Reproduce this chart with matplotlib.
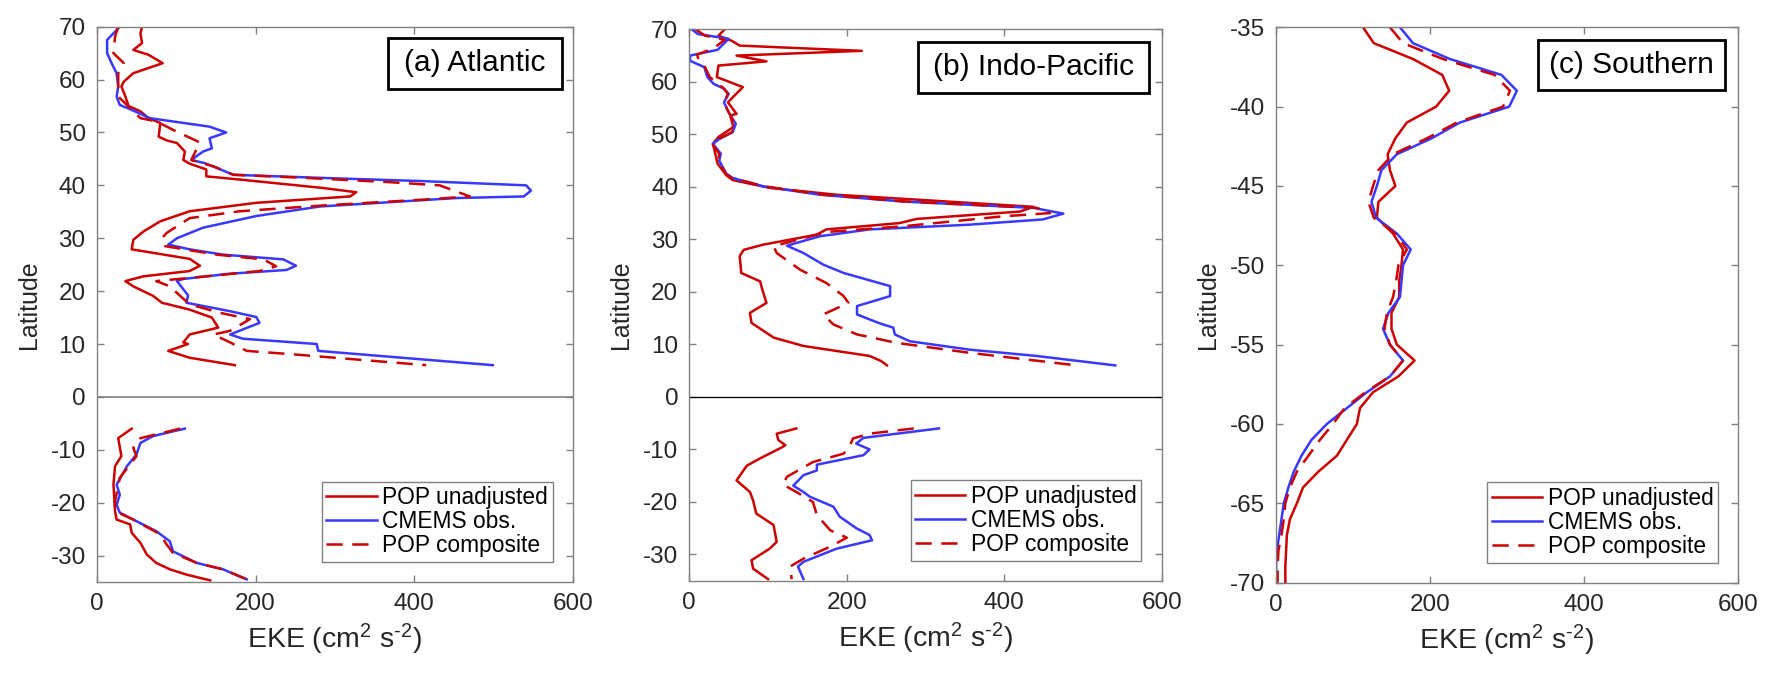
import matplotlib
matplotlib.use("Agg")
import matplotlib.pyplot as plt
from matplotlib.patches import Rectangle

plt.rcParams['font.family'] = ['Liberation Sans', 'DejaVu Sans']
plt.rcParams['mathtext.default'] = 'regular'
plt.rcParams['axes.unicode_minus'] = False

RED = '#cc0000'
BLUE = '#3838ff'

# (a) Atlantic, northern part
atl_n_obs_lat = [70, 67.5, 65, 63, 61.2, 58.7, 56.8, 55.2, 54.4, 52.7, 51.1, 50, 48.9, 47, 46.4, 44.8, 44.2, 43.3, 42,
                 41.4, 40.8, 40, 39, 37.9, 37.6, 36, 34.2, 32, 30, 28.8, 27.9, 26.9, 26, 24.8, 24, 23.3, 22.3, 21.9,
                 19.2, 17.8, 16.2, 15.1, 14, 11.8, 11, 10, 8.7, 6]
atl_n_obs = [29, 13, 13, 19, 25, 27, 25, 29, 42, 67, 142, 163, 142, 145, 134, 119, 136, 151, 172,
             285, 411, 541, 547, 538, 453, 281, 201, 134, 101, 90, 117, 159, 235, 251, 239, 168, 109, 101,
             115, 113, 168, 201, 205, 168, 184, 277, 279, 499]
atl_n_pop_lat = [70, 68.7, 66.9, 65.6, 64.7, 63.1, 61.2, 59.6, 58.7, 56.8, 55, 54, 52.7, 51.8, 49.2, 48.5, 48, 46.4,
                 44.8, 44.1, 43, 41.7, 41.1, 39.5, 38.7, 37.9, 36.7, 35.1, 33.2, 31.3, 29.7, 27.9, 26.1, 24.8, 23.8,
                 22.8, 21.9, 20.9, 19.1, 17.8, 16.5, 15, 13.1, 11.8, 10.3, 10, 8.7, 7.4, 6]
atl_n_pop = [57, 55, 57, 46, 65, 83, 46, 34, 31, 36, 40, 55, 65, 80, 78, 88, 101, 111,
             109, 117, 138, 138, 180, 285, 327, 319, 201, 117, 80, 59, 46, 44, 117, 130, 117,
             59, 36, 46, 71, 82, 117, 145, 153, 117, 109, 115, 90, 117, 174]
atl_n_comp_lat = [70, 68.1, 65, 63.1, 61.2, 56.8, 54.6, 52.7, 52.1, 50.5, 48.1, 44.8, 43.6, 42, 41.4, 40.6, 40,
                  37.9, 37.3, 36.2, 35.1, 33.8, 31, 30, 28.5, 26.9, 26, 24.7, 23.8, 22.8, 21.9, 20.9, 19.1, 17.5,
                  15.9, 14.7, 12.5, 11.8, 10.3, 8.7, 8.1, 6]
atl_n_comp = [27, 23, 21, 34, 27, 27, 42, 55, 75, 96, 130, 119, 147, 172, 264, 369, 432,
              470, 411, 285, 180, 117, 88, 82, 86, 151, 210, 226, 205, 138, 75, 92, 105, 117,
              155, 193, 168, 147, 168, 189, 243, 415]

# (a) Atlantic, southern part
atl_s_obs_lat = [-6, -7.4, -8.7, -10.9, -13.1, -16.6, -18.5, -20.4, -21.9, -23.2, -25.4, -27.3, -29.2, -31.4, -32.6, -34.5]
atl_s_obs = [111, 71, 55, 50, 38, 25, 29, 25, 29, 46, 75, 92, 96, 126, 159, 189]
atl_s_pop_lat = [-6, -7.8, -11.2, -13.1, -16.6, -21.6, -23.2, -24.1, -25.7, -27.6, -29.8, -31.4, -32.6, -33.6, -34.7]
atl_s_pop = [44, 27, 31, 23, 21, 23, 25, 42, 44, 55, 63, 75, 92, 113, 143]
atl_s_comp_lat = [-6, -7.8, -9.6, -11.2, -15.3, -19.7, -21.6, -23.2, -26, -27.9, -29.5, -31.4, -32.6, -34.5]
atl_s_comp = [105, 55, 46, 50, 29, 23, 23, 46, 80, 88, 96, 126, 159, 189]

# (b) Indo-Pacific, northern part
ip_n_obs_lat = [70, 69.1, 68.2, 66.1, 65, 64, 62.8, 60.9, 59.6, 58.7, 57.7, 56.1, 54.2, 52, 50.4, 49.1, 48.2, 46.3,
                45, 42.5, 41.7, 40.1, 38.5, 37.2, 36, 34.9, 33.8, 32.8, 31.9, 30.6, 28.8, 27.4, 25.2, 23.6, 21.1,
                19.2, 17.3, 15.7, 14, 13.2, 11.9, 10.6, 9, 7.8, 6]
ip_n_obs = [3, 11, 50, 36, 1, 1, 19, 23, 31, 44, 50, 44, 50, 59, 55, 38, 30, 40,
            38, 47, 55, 94, 166, 272, 437, 475, 449, 356, 229, 166, 124, 145, 170, 196, 255,
            255, 213, 213, 242, 259, 261, 280, 356, 441, 541]
ip_n_pop_lat = [70, 68.8, 67.8, 66.9, 65.9, 65, 63.9, 63.1, 60.9, 59, 56.1, 53.9, 53.6, 51.4, 49.5, 48.2, 44.4,
                42.2, 41.3, 39.8, 38.5, 36.2, 35.3, 33.9, 33.1, 31.9, 30.9, 29, 28, 26.8, 23.6, 22, 20.8, 17.9,
                16, 14.1, 11.3, 9.7, 7.8, 6.8, 6]
ip_n_pop = [45, 37, 54, 64, 219, 60, 98, 37, 35, 68, 49, 60, 52, 56, 37, 30, 36,
            47, 55, 102, 187, 437, 420, 289, 267, 174, 162, 94, 69, 64, 66, 90, 92, 98,
            77, 79, 107, 145, 229, 244, 251]
ip_n_comp_lat = [70, 68.8, 68, 66.3, 65.2, 64, 62.8, 60.9, 58.7, 57.7, 56.1, 54.2, 52, 50.4, 49.1, 48.2, 46.3, 45,
                 42.5, 41.7, 40.1, 38.5, 37.2, 36, 35, 34.4, 32.5, 31.4, 28.7, 27.4, 24.2, 21.7, 19.2, 17.9,
                 15.7, 13.8, 11.9, 10.3, 8.4, 6]
ip_n_comp = [8, 20, 45, 30, 10, 12, 20, 26, 44, 49, 44, 50, 58, 54, 37, 29, 38, 37,
             46, 54, 95, 170, 275, 441, 458, 399, 272, 174, 107, 111, 141, 174, 196, 202,
             170, 183, 213, 263, 356, 492]

# (b) Indo-Pacific, southern part
ip_s_obs_lat = [-6, -7.8, -8.9, -10, -11.1, -12.9, -14, -14.9, -16.9, -18.1, -19, -20.9, -22.8, -25, -26.3, -27.3,
                -28.9, -31.4, -32.3, -34.7]
ip_s_obs = [317, 221, 212, 229, 221, 162, 162, 145, 132, 145, 153, 183, 191, 212, 229, 232, 187, 145, 138, 145]
ip_s_pop_lat = [-6, -7, -8.2, -9.2, -9.8, -11.7, -13.1, -15.9, -18.1, -19.7, -22.2, -24.4, -27.6, -28.9, -31.1,
                -32.7, -34.7]
ip_s_pop = [136, 111, 113, 122, 115, 90, 73, 60, 77, 81, 85, 107, 111, 102, 79, 81, 100]
ip_s_comp_lat = [-6, -7, -7.9, -9.2, -10.8, -12.4, -15.2, -16.7, -18.1, -20, -22.5, -25.4, -26.8, -28.5, -30.8,
                 -32.3, -34.7]
ip_s_comp = [285, 229, 208, 204, 196, 157, 124, 119, 136, 157, 162, 179, 200, 179, 145, 128, 130]

# (c) Southern Ocean, one value per degree from -35 to -70
so_lat = list(range(-35, -71, -1))
so_obs = [161, 178, 226, 293, 313, 303, 239, 202, 157, 137, 131, 124, 130, 157, 175, 165, 163, 161,
          146, 139, 148, 165, 148, 118, 92, 66, 46, 33, 23, 16, 10, 7, 4, 1, 0, 0]
so_pop = [113, 127, 178, 216, 225, 208, 170, 155, 145, 148, 155, 133, 131, 152, 165, 163, 160, 160,
          150, 150, 157, 180, 159, 126, 109, 105, 92, 79, 55, 35, 27, 18, 14, 13, 12, 12]
so_comp = [148, 165, 217, 284, 304, 295, 235, 196, 152, 133, 126, 120, 127, 155, 170, 159, 156, 152,
           144, 141, 148, 165, 148, 116, 89, 74, 57, 42, 27, 18, 12, 10, 7, 3, 2, 2]

labels = ['POP unadjusted', 'CMEMS obs.', 'POP composite']
LW = 1.8
DASH = (6.5, 3.8)


def draw_series(ax, pop, obs, comp, first=True):
    ax.plot(pop[1], pop[0], color=RED, lw=LW, label=labels[0] if first else None)
    ax.plot(obs[1], obs[0], color=BLUE, lw=LW, label=labels[1] if first else None)
    ax.plot(comp[1], comp[0], color=RED, lw=LW, dashes=DASH, label=labels[2] if first else None)


def style_axes(ax, ylim, yticks, title, box):
    ax.set_xlim(0, 600)
    ax.set_ylim(*ylim)
    ax.set_xticks([0, 200, 400, 600])
    ax.set_yticks(yticks)
    ax.tick_params(direction='in', top=True, right=True, length=5, width=1,
                   labelsize=17.5, colors='#808080', labelcolor='#262626', pad=8)
    for s in ax.spines.values():
        s.set_color('#808080')
        s.set_linewidth(1)
    ax.set_xlabel('EKE (cm$^{2}$ s$^{\u20102}$)', fontsize=20.5, color='#262626', labelpad=5)
    ax.set_ylabel('Latitude', fontsize=18, color='#262626', labelpad=7)
    x0, x1, y0, y1 = box
    ax.add_patch(Rectangle((x0, y0), x1 - x0, y1 - y0, transform=ax.transAxes,
                           facecolor='white', edgecolor='black', lw=2, zorder=5))
    ax.text((x0 + x1) / 2, (y0 + y1) / 2, title, transform=ax.transAxes, ha='center', va='center',
            fontsize=21.5, zorder=6)
    leg = ax.legend(loc='lower right', bbox_to_anchor=(0.957, 0.036), borderaxespad=0,
                    fontsize=16.4, frameon=True, fancybox=False, framealpha=1, edgecolor='#808080',
                    handlelength=2.2, handletextpad=0.25, labelspacing=0.05, borderpad=0.2)
    leg.get_frame().set_linewidth(1)


fig = plt.figure(figsize=(17.89, 6.74), dpi=100)

ax1 = fig.add_axes([0.0541, 0.1365, 0.2662, 0.8239])
draw_series(ax1, (atl_n_pop_lat, atl_n_pop), (atl_n_obs_lat, atl_n_obs), (atl_n_comp_lat, atl_n_comp))
draw_series(ax1, (atl_s_pop_lat, atl_s_pop), (atl_s_obs_lat, atl_s_obs), (atl_s_comp_lat, atl_s_comp), first=False)
ax1.axhline(0, color='#808080', lw=1.2)
style_axes(ax1, (-35, 70), [-30, -20, -10, 0, 10, 20, 30, 40, 50, 60, 70], '(a) Atlantic',
           (0.612, 0.977, 0.888, 0.980))

ax2 = fig.add_axes([0.3853, 0.1384, 0.2641, 0.8181])
draw_series(ax2, (ip_n_pop_lat, ip_n_pop), (ip_n_obs_lat, ip_n_obs), (ip_n_comp_lat, ip_n_comp))
draw_series(ax2, (ip_s_pop_lat, ip_s_pop), (ip_s_obs_lat, ip_s_obs), (ip_s_comp_lat, ip_s_comp), first=False)
ax2.axhline(0, color='black', lw=0.9)
style_axes(ax2, (-35, 70), [-30, -20, -10, 0, 10, 20, 30, 40, 50, 60, 70], '(b) Indo-Pacific',
           (0.484, 0.973, 0.885, 0.9775))

ax3 = fig.add_axes([0.7133, 0.1355, 0.2580, 0.8240])
draw_series(ax3, (so_lat, so_pop), (so_lat, so_obs), (so_lat, so_comp))
style_axes(ax3, (-70, -35), [-70, -65, -60, -55, -50, -45, -40, -35], '(c) Southern',
           (0.5675, 0.9725, 0.887, 0.978))

fig.savefig('out.png', dpi=100)
